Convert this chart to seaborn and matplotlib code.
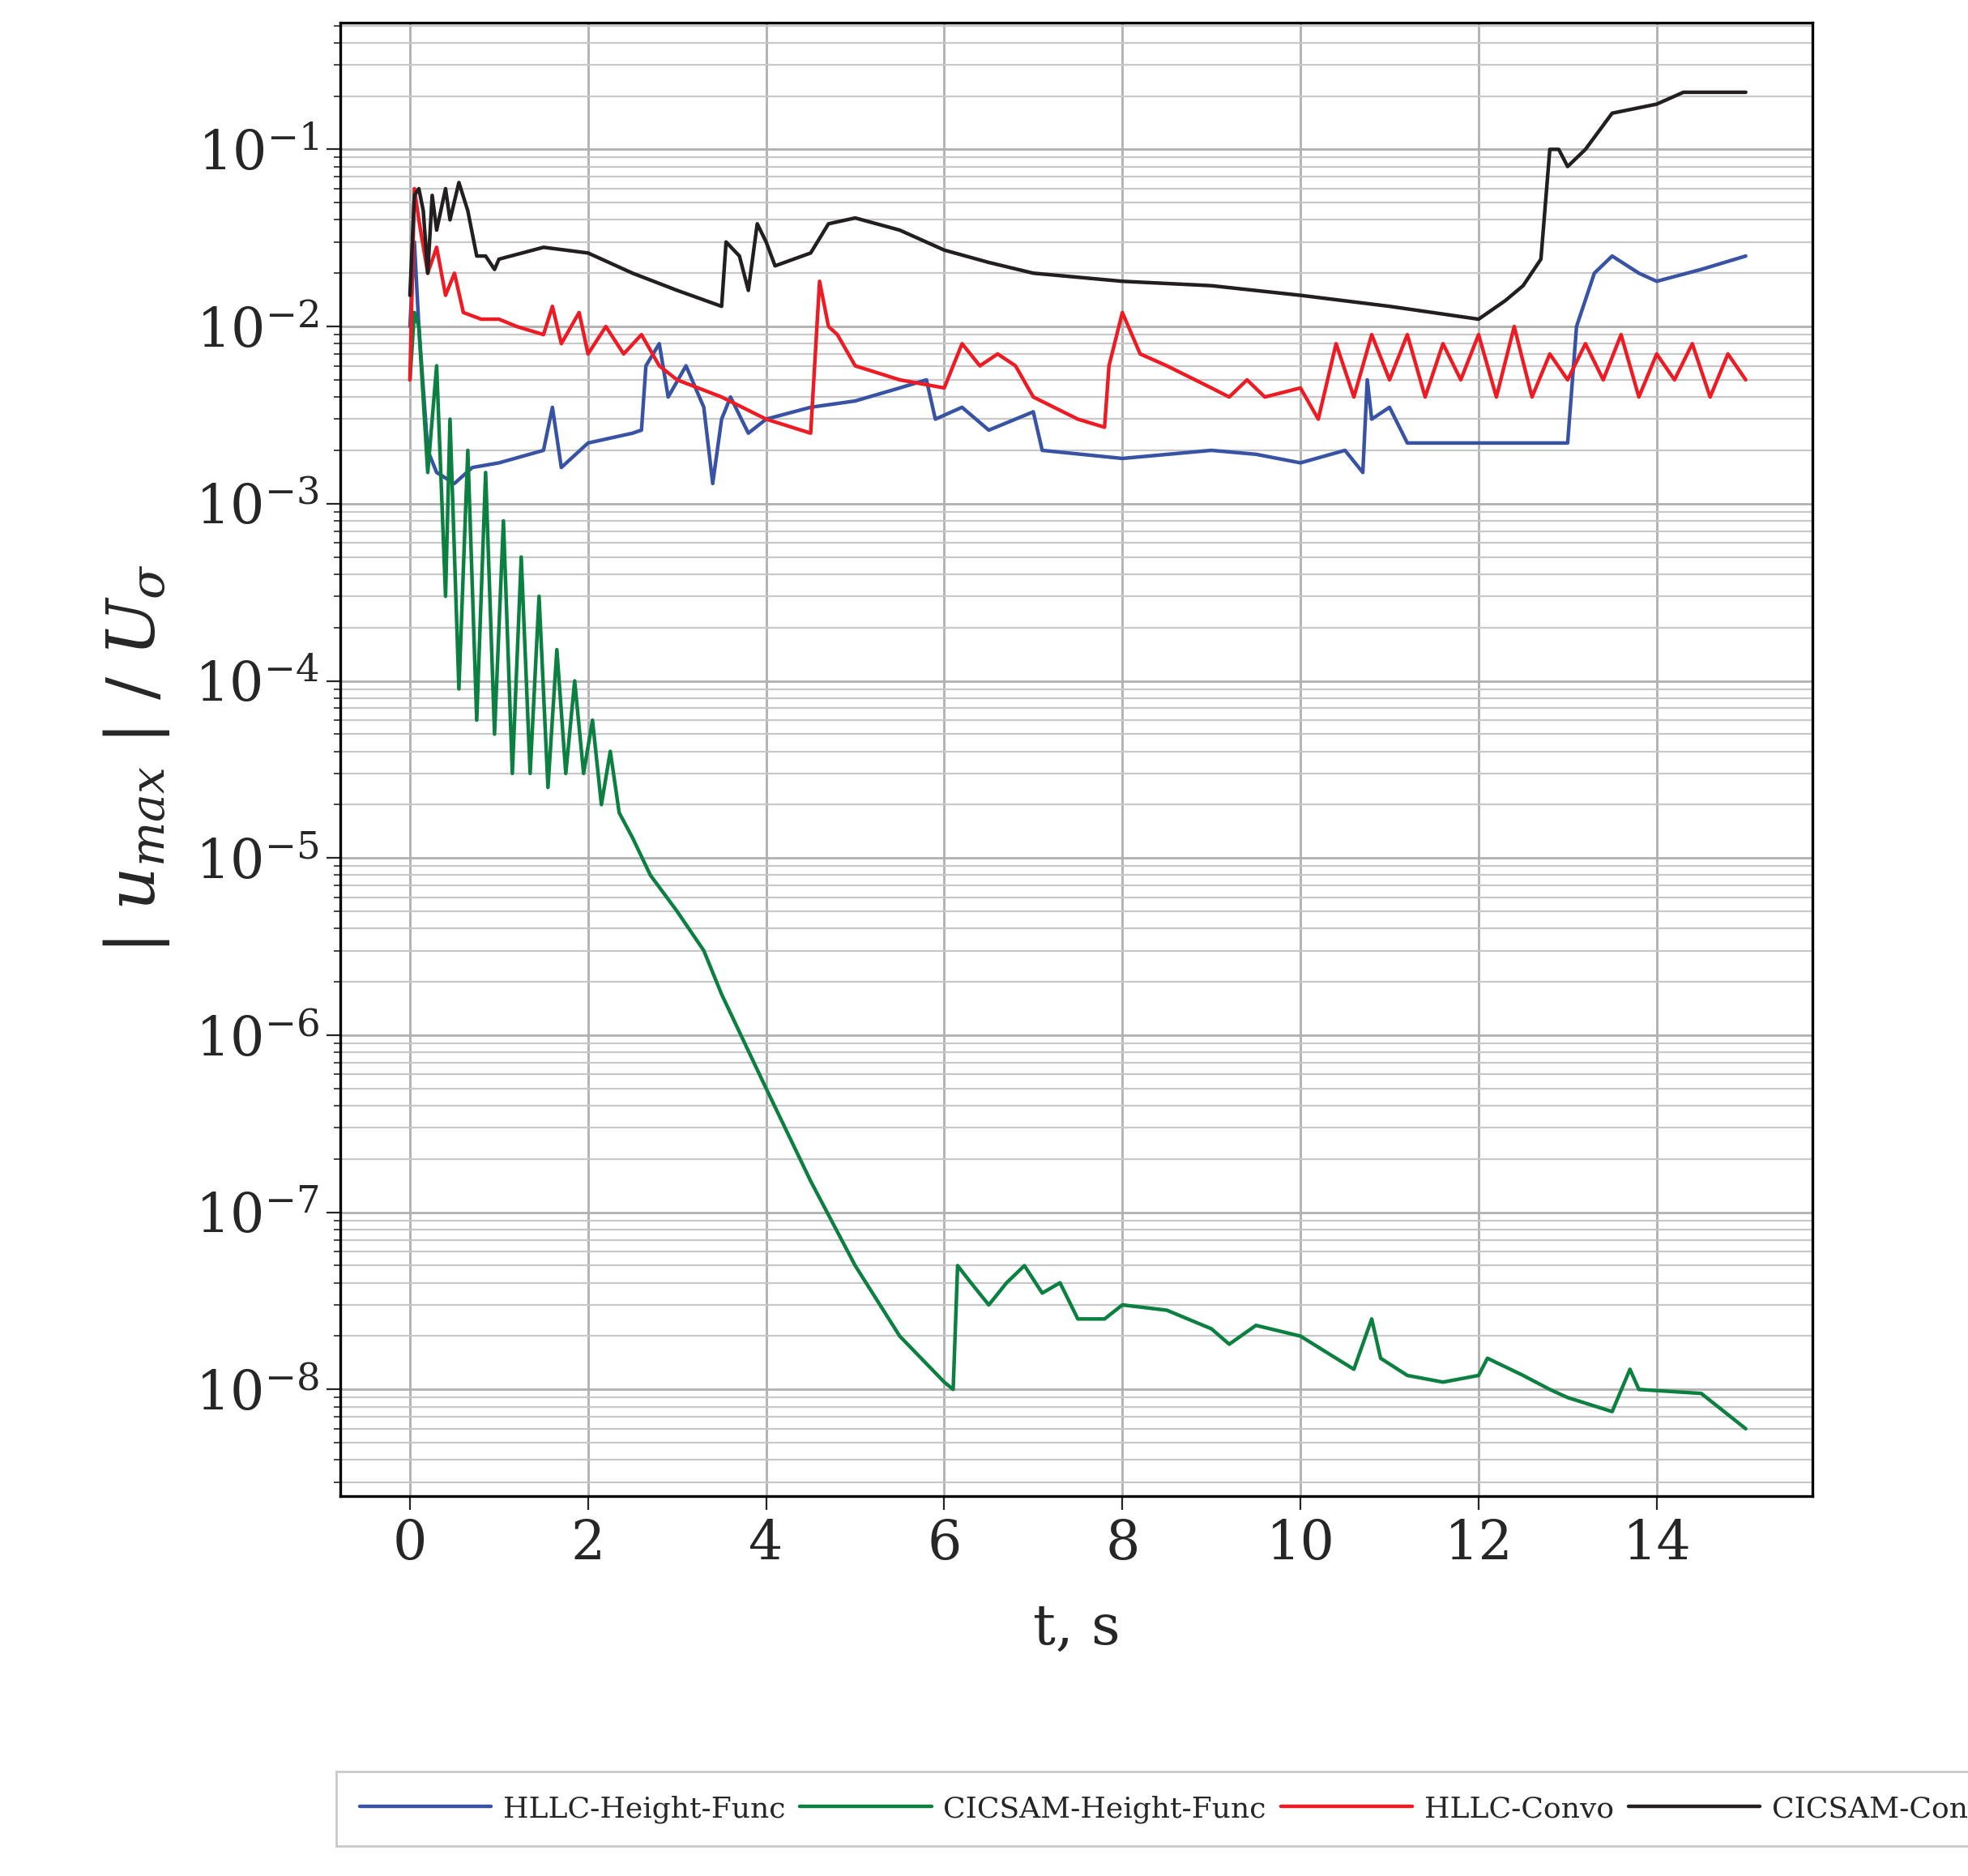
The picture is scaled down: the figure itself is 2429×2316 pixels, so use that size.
import numpy as np
import pandas as pd
import matplotlib
matplotlib.use("Agg")
import matplotlib.pyplot as plt
import seaborn as sns
from matplotlib.ticker import LogLocator, FixedLocator

# series (t in s, |u_max|/U_sigma)
t_black = [0, 0.05, 0.1, 0.15, 0.2, 0.25, 0.3, 0.4, 0.45, 0.55, 0.65, 0.75, 0.85, 0.95, 1.0, 1.5, 2.0, 2.5, 3.0, 3.5,
           3.55, 3.7, 3.8, 3.9, 4.0, 4.1, 4.5, 4.7, 5.0, 5.5, 6.0, 6.5, 7.0, 8.0, 9.0, 10.0, 11.0, 12.0, 12.3, 12.5,
           12.7, 12.8, 12.9, 13.0, 13.2, 13.5, 14.0, 14.3, 15.0]
v_black = [0.015, 0.055, 0.06, 0.045, 0.02, 0.055, 0.035, 0.06, 0.04, 0.065, 0.045, 0.025, 0.025, 0.021, 0.024, 0.028,
           0.026, 0.02, 0.016, 0.013, 0.03, 0.025, 0.016, 0.038, 0.03, 0.022, 0.026, 0.038, 0.041, 0.035, 0.027, 0.023,
           0.02, 0.018, 0.017, 0.015, 0.013, 0.011, 0.014, 0.017, 0.024, 0.1, 0.1, 0.08, 0.1, 0.16, 0.18, 0.21, 0.21]

t_red = [0, 0.05, 0.1, 0.2, 0.3, 0.4, 0.5, 0.6, 0.8, 1.0, 1.2, 1.5, 1.6, 1.7, 1.9, 2.0, 2.2, 2.4, 2.6, 2.8, 3.0, 3.5,
         4.0, 4.5, 4.6, 4.7, 4.8, 5.0, 5.5, 6.0, 6.2, 6.4, 6.6, 6.8, 7.0, 7.5, 7.8, 7.85, 8.0, 8.2, 8.5, 9.0, 9.2, 9.4,
         9.6, 10.0, 10.2, 10.4, 10.6, 10.8, 11.0, 11.2, 11.4, 11.6, 11.8, 12.0, 12.2, 12.4, 12.6, 12.8, 13.0, 13.2,
         13.4, 13.6, 13.8, 14.0, 14.2, 14.4, 14.6, 14.8, 15.0]
v_red = [0.005, 0.06, 0.04, 0.02, 0.028, 0.015, 0.02, 0.012, 0.011, 0.011, 0.01, 0.009, 0.013, 0.008, 0.012, 0.007,
         0.01, 0.007, 0.009, 0.006, 0.005, 0.004, 0.003, 0.0025, 0.018, 0.01, 0.009, 0.006, 0.005, 0.0045, 0.008,
         0.006, 0.007, 0.006, 0.004, 0.003, 0.0027, 0.006, 0.012, 0.007, 0.006, 0.0045, 0.004, 0.005, 0.004, 0.0045,
         0.003, 0.008, 0.004, 0.009, 0.005, 0.009, 0.004, 0.008, 0.005, 0.009, 0.004, 0.01, 0.004, 0.007, 0.005,
         0.008, 0.005, 0.009, 0.004, 0.007, 0.005, 0.008, 0.004, 0.007, 0.005]

t_blue = [0, 0.05, 0.1, 0.2, 0.3, 0.5, 0.7, 1.0, 1.5, 1.6, 1.7, 2.0, 2.5, 2.6, 2.65, 2.8, 2.9, 3.1, 3.3, 3.4, 3.5, 3.6,
          3.8, 4.0, 4.5, 5.0, 5.5, 5.8, 5.9, 6.2, 6.5, 7.0, 7.1, 8.0, 9.0, 9.5, 10.0, 10.5, 10.7, 10.75, 10.8, 11.0,
          11.2, 12.0, 13.0, 13.1, 13.3, 13.5, 13.8, 14.0, 14.5, 15.0]
v_blue = [0.01, 0.03, 0.01, 0.002, 0.0015, 0.0013, 0.0016, 0.0017, 0.002, 0.0035, 0.0016, 0.0022, 0.0025, 0.0026,
          0.006, 0.008, 0.004, 0.006, 0.0035, 0.0013, 0.003, 0.004, 0.0025, 0.003, 0.0035, 0.0038, 0.0045, 0.005,
          0.003, 0.0035, 0.0026, 0.0033, 0.002, 0.0018, 0.002, 0.0019, 0.0017, 0.002, 0.0015, 0.005, 0.003, 0.0035,
          0.0022, 0.0022, 0.0022, 0.01, 0.02, 0.025, 0.02, 0.018, 0.021, 0.025]

t_green = [0, 0.05, 0.1, 0.2, 0.3, 0.4, 0.45, 0.55, 0.65, 0.75, 0.85, 0.95, 1.05, 1.15, 1.25, 1.35, 1.45, 1.55, 1.65,
           1.75, 1.85, 1.95, 2.05, 2.15, 2.25, 2.35, 2.5, 2.7, 3.0, 3.3, 3.5, 4.0, 4.5, 5.0, 5.5, 6.0, 6.1, 6.15, 6.3,
           6.5, 6.7, 6.9, 7.1, 7.3, 7.5, 7.8, 8.0, 8.5, 9.0, 9.2, 9.5, 10.0, 10.4, 10.6, 10.8, 10.9, 11.2, 11.6, 12.0,
           12.1, 12.5, 12.8, 13.0, 13.5, 13.7, 13.8, 14.5, 15.0]
v_green = [0.005, 0.012, 0.01, 0.0015, 0.006, 0.0003, 0.003, 9e-5, 0.002, 6e-5, 0.0015, 5e-5, 8e-4, 3e-5, 5e-4, 3e-5,
           3e-4, 2.5e-5, 1.5e-4, 3e-5, 1e-4, 3e-5, 6e-5, 2e-5, 4e-5, 1.8e-5, 1.3e-5, 8e-6, 5e-6, 3e-6, 1.7e-6, 5e-7,
           1.5e-7, 5e-8, 2e-8, 1.1e-8, 1e-8, 5e-8, 4e-8, 3e-8, 4e-8, 5e-8, 3.5e-8, 4e-8, 2.5e-8, 2.5e-8, 3e-8, 2.8e-8,
           2.2e-8, 1.8e-8, 2.3e-8, 2e-8, 1.5e-8, 1.3e-8, 2.5e-8, 1.5e-8, 1.2e-8, 1.1e-8, 1.2e-8, 1.5e-8, 1.2e-8, 1e-8,
           9e-9, 7.5e-9, 1.3e-8, 1e-8, 9.5e-9, 6e-9]

series = [
    ("HLLC-Height-Func", t_blue, v_blue, "#3953a4"),
    ("CICSAM-Height-Func", t_green, v_green, "#0b8040"),
    ("HLLC-Convo", t_red, v_red, "#ed1c24"),
    ("CICSAM-Convo", t_black, v_black, "#231f20"),
]

df = pd.concat([pd.DataFrame({"t": t, "u": v, "case": name}) for name, t, v, _ in series])
palette = {name: c for name, _, _, c in series}

sns.set_style("white")
plt.rcParams["font.family"] = ["DejaVu Serif"]
plt.rcParams["mathtext.fontset"] = "dejavuserif"

fig = plt.figure(figsize=(12.145, 11.58), dpi=200)
ax = fig.add_axes([0.173, 0.2025, 0.748, 0.7855])
sns.lineplot(data=df, x="t", y="u", hue="case", palette=palette, linewidth=1.6, ax=ax, sort=False, estimator=None)
ax.set_yscale("log")
ax.set_xlim(-0.78, 15.75)
ax.set_ylim(2.5e-9, 0.52)
ax.xaxis.set_major_locator(FixedLocator([0, 2, 4, 6, 8, 10, 12, 14]))
ax.yaxis.set_major_locator(FixedLocator([1e-8, 1e-7, 1e-6, 1e-5, 1e-4, 1e-3, 1e-2, 1e-1]))
ax.yaxis.set_minor_locator(LogLocator(base=10, subs=np.arange(2, 10), numticks=20))
ax.grid(True, which="major", color="#b0b0b0", linewidth=1.0)
ax.grid(True, which="minor", axis="y", color="#c8c8c8", linewidth=0.8)
ax.tick_params(axis="both", which="major", labelsize=24, length=6, left=True, bottom=True)
ax.tick_params(axis="y", which="minor", length=3, left=True)
for s in ax.spines.values():
    s.set_linewidth(1.2)
    s.set_color("black")
ax.set_xlabel("t, s", fontsize=25, labelpad=14)
ax.set_ylabel(r"$|\ u_{max}\ |\ /\ U_\sigma$", fontsize=30, labelpad=10)

handles, labels = ax.get_legend_handles_labels()
ax.legend_.remove()
fig.legend(handles, labels, loc="lower center", bbox_to_anchor=(0.6, 0.008), ncol=4, fontsize=13,
           frameon=True, fancybox=False, edgecolor="#bbbbbb", handlelength=4.5, columnspacing=0.5,
           handletextpad=0.4, borderpad=0.8)

fig.savefig("out.png", dpi=200)
